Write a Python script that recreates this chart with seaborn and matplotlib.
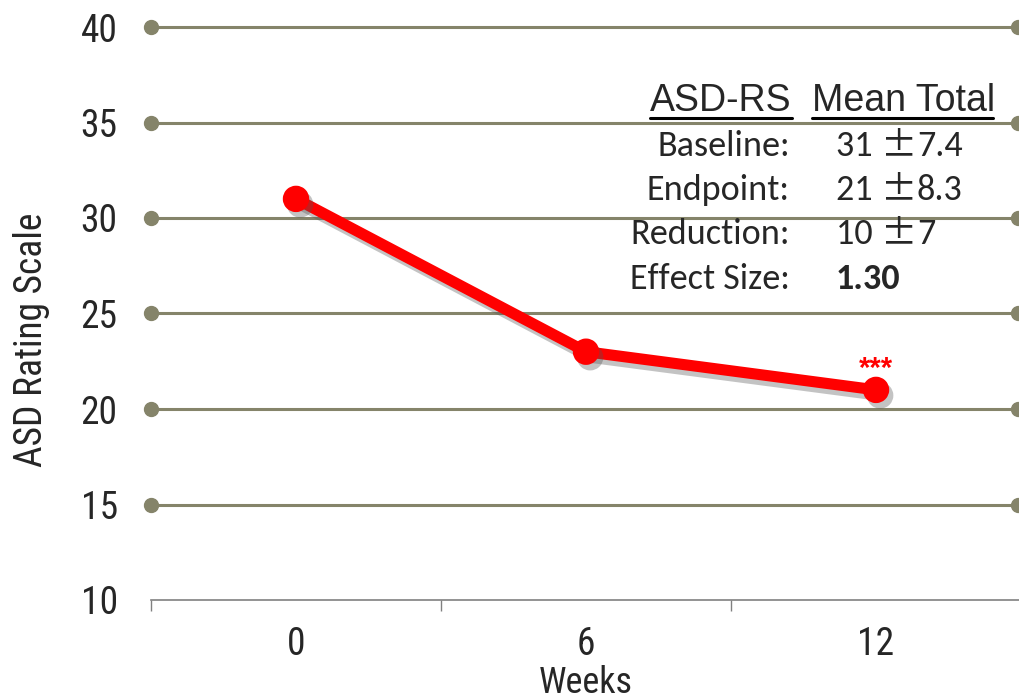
import matplotlib
matplotlib.use("Agg")
import matplotlib.pyplot as plt
import matplotlib.patheffects as pe
from matplotlib.lines import Line2D
import pandas as pd
import seaborn as sns

# data
weeks = ["0", "6", "12"]
scores = [31, 23, 21]
grid_levels = [15, 20, 25, 30, 35, 40]
y_ticks = [10, 15, 20, 25, 30, 35, 40]

table_header = ["ASD-RS", "Mean Total"]
table_rows = ["Baseline:", "Endpoint:", "Reduction:", "Effect Size:"]
table_means = ["31", "21", "10", "1.30"]
table_sds = ["7.4", "8.3", "7", None]

sns.set_theme(style="white")
plt.rcParams["font.family"] = ["Roboto Condensed", "Liberation Sans", "DejaVu Sans"]

df = pd.DataFrame({"Weeks": weeks, "Score": scores})

fig = plt.figure(figsize=(10.2, 6.99), dpi=100)
ax = fig.add_axes([151 / 1020, 99 / 699, 870 / 1020, 573 / 699])

grid_col = "#85846a"
for g in grid_levels:
    ax.plot([-0.5, 2.49], [g, g], color=grid_col, lw=2.2, marker="o",
            markersize=10, zorder=1, clip_on=False)

sns.pointplot(data=df, x="Weeks", y="Score", order=weeks, color="#ff0000",
              markers="o", linewidth=8, markersize=13, ax=ax, zorder=3)
for ln in ax.lines[len(grid_levels):]:
    ln.set_path_effects([pe.SimpleLineShadow(offset=(3, -4), shadow_color="#555555", alpha=0.35),
                         pe.Normal()])
    ln.set_solid_capstyle("butt")

# significance marker above week 12
ax.text(2, 21.7, "***", color="#ff0000", fontsize=21, ha="center", va="baseline",
        family="Liberation Sans", fontweight="bold")

ax.set_xlim(-0.5, 2.5)
ax.set_ylim(10, 40)
ax.set_yticks(y_ticks)
ax.set_xticks([0, 1, 2])
ax.set_xticklabels(weeks)
ax.set_xticks([-0.5, 0.5, 1.5, 2.5], minor=True)
ax.tick_params(axis="y", length=0, pad=24, labelsize=27)
ax.tick_params(axis="x", which="major", length=0, pad=19, labelsize=27)
ax.tick_params(axis="x", which="minor", bottom=True, length=8, width=1, color="#808080")
for s in ["top", "right", "left"]:
    ax.spines[s].set_visible(False)
ax.spines["bottom"].set_color("#808080")
ax.spines["bottom"].set_linewidth(1.2)
ax.set_xlabel("")
ax.set_ylabel("")
fig.text(586 / 1020, 1 - 683 / 699, "Weeks", fontsize=26, ha="center", va="center")
fig.text(32 / 1020, 1 - 340 / 699, "ASD Rating Scale", rotation=90, fontsize=27,
         ha="center", va="center")

# summary table
hdr_y = 1 - 101 / 699
fig.text(792 / 1020, hdr_y, table_header[0], ha="right", va="center", fontsize=27,
         family="Liberation Sans")
fig.text(812 / 1020, hdr_y, table_header[1], ha="left", va="center", fontsize=27,
         family="Liberation Sans")
fig.add_artist(Line2D([650 / 1020, 792 / 1020], [1 - 118 / 699] * 2, color="black", lw=2.2))
fig.add_artist(Line2D([812 / 1020, 993 / 1020], [1 - 118 / 699] * 2, color="black", lw=2.2))

row_y = [146, 190, 234, 279]
for lab, mean, sd, yy in zip(table_rows, table_means, table_sds, row_y):
    fig.text(790 / 1020, 1 - yy / 699, lab, ha="right", va="center", fontsize=26,
             family="Carlito")
    t = fig.text(836 / 1020, 1 - yy / 699, mean + (" " if sd else ""), ha="left",
                 va="center", fontsize=26, family="Carlito",
                 fontweight="normal" if sd else "bold")
    if sd:
        pm = ax.annotate("\u00b1", xy=(1, 0.5), xycoords=t, ha="left", va="center",
                         fontsize=26, family="Noto Sans CJK JP")
        ax.annotate(sd, xy=(1, 0.5), xycoords=pm, ha="left", va="center",
                    fontsize=26, family="Carlito")

fig.savefig("out.png", dpi=100)
